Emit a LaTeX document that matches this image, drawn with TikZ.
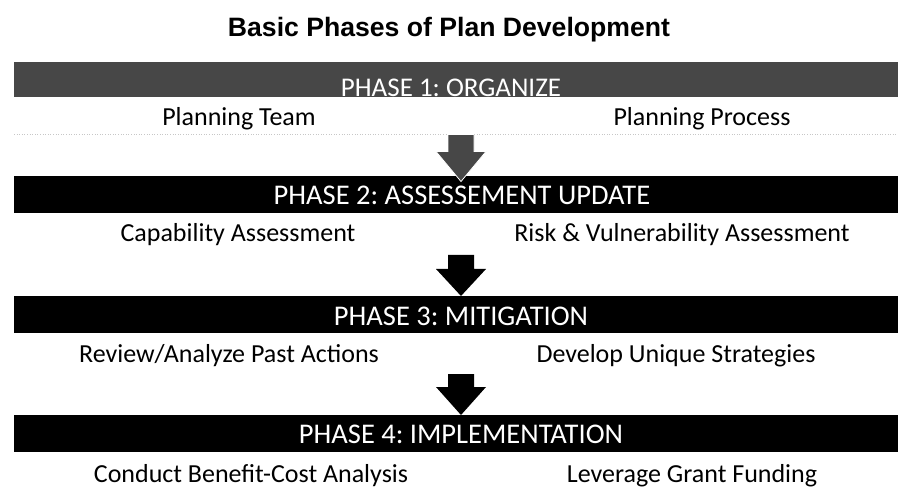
\documentclass[tikz,border=0pt]{standalone}
\usepackage{fontspec}
\setmainfont{Carlito}
\newfontfamily\titlefont{Liberation Sans}
\usetikzlibrary{calc}
\frenchspacing
\begin{document}
\begin{tikzpicture}[x=1pt,y=-1pt,
  barbox/.style={fill=#1, draw=none, minimum width=884pt, minimum height=37pt, inner sep=0pt, outer sep=0pt},
  phaselbl/.style={text=white, font=\fontsize{28.5}{30}\selectfont, anchor=base, inner sep=0pt},
  itemlbl/.style={text=black, font=\fontsize{26}{28}\selectfont, anchor=base, inner sep=0pt}]
\useasboundingbox (0,0) rectangle (898,492);
\node[font=\titlefont\bfseries\fontsize{26.6}{30}\selectfont, anchor=base, inner sep=0pt] (title) at (449,37) {Basic Phases of Plan Development};
% bars
\node[barbox=black!72, minimum height=35pt] (bar1) at (456,80) {};
\node[barbox=black] (bar2) at (456,195) {};
\node[barbox=black] (bar3) at (456,314.5) {};
\node[barbox=black] (bar4) at (456,433.5) {};
% phase labels
\node[phaselbl, font=\fontsize{27}{29}\selectfont] (p1) at (451,97) {PHASE 1: ORGANIZE};
\node[phaselbl] (p2) at (462,205) {PHASE 2: ASSESSEMENT UPDATE};
\node[phaselbl] (p3) at (461,325) {PHASE 3: MITIGATION};
\node[phaselbl] (p4) at (461,443) {PHASE 4: IMPLEMENTATION};
% items
\node[itemlbl] (l1) at (239,126) {Planning Team};
\node[itemlbl] (r1) at (702,126) {Planning Process};
\node[itemlbl] (l2) at (238,242) {Capability Assessment};
\node[itemlbl] (r2) at (682,242) {Risk \& Vulnerability Assessment};
\node[itemlbl] (l3) at (229,362) {Review/Analyze Past Actions};
\node[itemlbl] (r3) at (676,362) {Develop Unique Strategies};
\node[itemlbl] (l4) at (251,482) {Conduct Benefit-Cost Analysis};
\node[itemlbl] (r4) at (692,482) {Leverage Grant Funding};
% faint scan line
\draw[black!22, dotted, line width=0.6pt] (14,134) -- (898,134);
% arrows
\coordinate (t1) at ($(bar2.north)+(5,5)$);
\coordinate (t2) at ($(bar3.north)+(5,0)$);
\coordinate (t3) at ($(bar4.north)+(5,0)$);
\filldraw[fill=black!72, draw=white, line width=0.8pt] (t1) -- ++(-25,-30) -- ++(12,0) -- ++(0,-17) -- ++(26,0) -- ++(0,17) -- ++(12,0) -- cycle;
\fill[black] (t2) -- ++(-25,-27) -- ++(12,0) -- ++(0,-14) -- ++(26,0) -- ++(0,14) -- ++(12,0) -- cycle;
\fill[black] (t3) -- ++(-25,-28) -- ++(12,0) -- ++(0,-13) -- ++(26,0) -- ++(0,13) -- ++(12,0) -- cycle;
\end{tikzpicture}
\end{document}
